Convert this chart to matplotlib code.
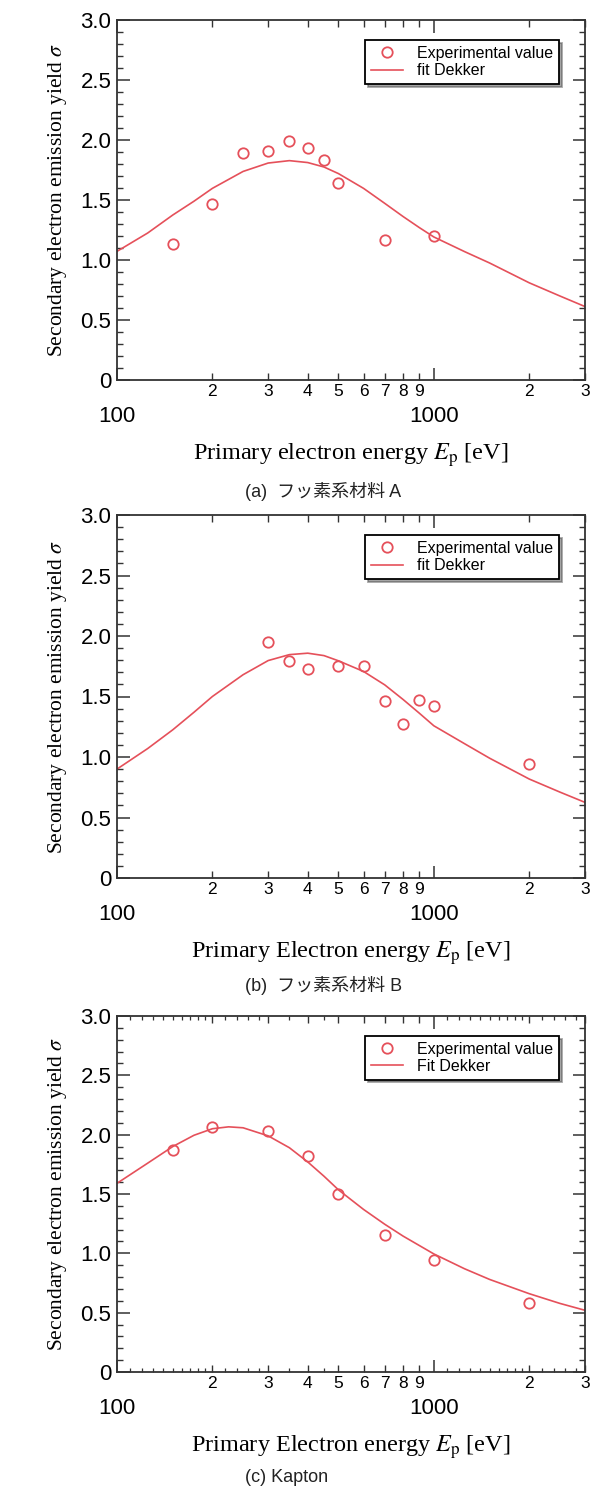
import matplotlib
matplotlib.use("Agg")
import matplotlib.pyplot as plt
from matplotlib.ticker import FixedLocator, FixedFormatter, NullFormatter

# ---------------- data ----------------
exp_E_a = [150, 200, 250, 300, 350, 400, 450, 500, 700, 1000]
exp_s_a = [1.13, 1.47, 1.89, 1.91, 1.99, 1.93, 1.83, 1.64, 1.17, 1.20]
fit_E_a = [100, 125, 150, 175, 200, 250, 300, 350, 400, 450, 500, 600, 700, 800, 900, 1000, 1250, 1500, 2000, 2500, 3000]
fit_s_a = [1.072, 1.225, 1.375, 1.49, 1.597, 1.738, 1.808, 1.828, 1.812, 1.775, 1.72, 1.597, 1.472, 1.362, 1.27, 1.192, 1.07, 0.975, 0.81, 0.7, 0.612]

exp_E_b = [300, 350, 400, 500, 600, 700, 800, 900, 1000, 2000]
exp_s_b = [1.95, 1.79, 1.73, 1.75, 1.75, 1.46, 1.27, 1.47, 1.42, 0.94]
fit_E_b = [100, 125, 150, 175, 200, 250, 300, 350, 400, 450, 500, 600, 700, 800, 900, 1000, 1250, 1500, 2000, 2500, 3000]
fit_s_b = [0.90, 1.07, 1.225, 1.37, 1.50, 1.68, 1.797, 1.846, 1.858, 1.838, 1.795, 1.707, 1.596, 1.475, 1.362, 1.258, 1.11, 0.99, 0.818, 0.71, 0.625]

exp_E_c = [150, 200, 300, 400, 500, 700, 1000, 2000]
exp_s_c = [1.875, 2.066, 2.03, 1.82, 1.50, 1.155, 0.945, 0.58]
fit_E_c = [100, 125, 150, 175, 200, 225, 250, 300, 350, 400, 450, 500, 600, 700, 800, 1000, 1250, 1500, 2000, 2500, 3000]
fit_s_c = [1.59, 1.76, 1.90, 1.995, 2.05, 2.066, 2.058, 1.99, 1.89, 1.77, 1.65, 1.535, 1.37, 1.245, 1.145, 0.995, 0.87, 0.78, 0.66, 0.578, 0.52]

legend_exp = "Experimental value"
legend_fit = ["fit Dekker", "fit Dekker", "Fit Dekker"]
xlabels = [r"Primary electron energy $E_{\mathrm{p}}$ [eV]",
           r"Primary Electron energy $E_{\mathrm{p}}$ [eV]",
           r"Primary Electron energy $E_{\mathrm{p}}$ [eV]"]
ylabel = r"Secondary electron emission yield $\sigma$"
captions = ["(a)  フッ素系材料 A", "(b)  フッ素系材料 B", "(c) Kapton"]

major_x = [100, 1000]
major_x_labels = ["100", "1000"]
minor_x = [200, 300, 400, 500, 600, 700, 800, 900, 2000, 3000]
minor_x_labels = ["2", "3", "4", "5", "6", "7", "8", "9", "2", "3"]
fine_x_c = [110, 120, 130, 140, 150, 160, 170, 180, 190, 220, 240, 260, 280,
            350, 450, 1100, 1200, 1300, 1400, 1500, 1600, 1700, 1800, 1900, 2200, 2400, 2600, 2800]
y_major = [0, 0.5, 1.0, 1.5, 2.0, 2.5, 3.0]
y_major_labels = ["0", "0.5", "1.0", "1.5", "2.0", "2.5", "3.0"]
y_minor = [i / 10 for i in range(31)]

# ---------------- style ----------------
RED = "#e5505a"
SPINE = "#333333"
plt.rcParams['font.family'] = ['Liberation Sans', 'DejaVu Sans']
plt.rcParams['mathtext.fontset'] = 'stix'

W, H = 593, 1495
fig = plt.figure(figsize=(W / 100, H / 100), dpi=100)

panels = [
    (exp_E_a, exp_s_a, fit_E_a, fit_s_a, 20, 380),
    (exp_E_b, exp_s_b, fit_E_b, fit_s_b, 515, 878),
    (exp_E_c, exp_s_c, fit_E_c, fit_s_c, 1016, 1372),
]
caption_y = [491, 985, 1478]
left_px, right_px = 117, 585

for i, (eE, es, fE, fs, top, bot) in enumerate(panels):
    ax = fig.add_axes([left_px / W, 1 - bot / H, (right_px - left_px) / W, (bot - top) / H])
    ax.plot(fE, fs, color=RED, lw=1.2, label=legend_fit[i], zorder=2)
    ax.plot(eE, es, linestyle='none', marker='o', ms=7.5, mfc='none', mec=RED,
            mew=1.3, label=legend_exp, zorder=3)
    ax.set_xscale('log')
    ax.set_xlim(100, 3000)
    ax.set_ylim(0, 3.0)

    ax.xaxis.set_major_locator(FixedLocator(major_x))
    ax.xaxis.set_major_formatter(FixedFormatter(major_x_labels))
    ax.xaxis.set_minor_locator(FixedLocator(minor_x))
    ax.xaxis.set_minor_formatter(FixedFormatter(minor_x_labels))
    ax.yaxis.set_major_locator(FixedLocator(y_major))
    ax.yaxis.set_major_formatter(FixedFormatter(y_major_labels))
    ax.yaxis.set_minor_locator(FixedLocator(y_minor))
    ax.yaxis.set_minor_formatter(NullFormatter())

    ax.tick_params(which='both', direction='in', top=True, right=True, color=SPINE)
    ax.tick_params(axis='y', which='major', length=9, width=1.1, labelsize=16, pad=4)
    ax.tick_params(axis='y', which='minor', length=4.5, width=1.0)
    ax.tick_params(axis='x', which='major', length=9, width=1.1, labelsize=16, pad=19)
    ax.tick_params(axis='x', which='minor', length=5, width=1.0, labelsize=12.5, pad=3)
    for lab in ax.xaxis.get_minorticklabels():
        lab.set_family(['Liberation Sans Narrow', 'Liberation Sans', 'DejaVu Sans'])
    for sp in ax.spines.values():
        sp.set_color(SPINE)
        sp.set_linewidth(1.3)

    if i == 2:
        for loc in ('top', 'bottom'):
            sec = ax.secondary_xaxis(loc)
            sec.set_xscale('log')
            sec.xaxis.set_major_locator(FixedLocator(fine_x_c))
            sec.xaxis.set_minor_locator(FixedLocator([]))
            sec.xaxis.set_major_formatter(NullFormatter())
            sec.tick_params(which='both', direction='in', length=3, width=0.9, color=SPINE)
            for s in sec.spines.values():
                s.set_visible(False)

    ax.set_xlabel(xlabels[i], family=['Liberation Serif', 'DejaVu Serif'], fontsize=17.5, labelpad=10)
    ax.set_ylabel(ylabel, family=['Liberation Serif', 'DejaVu Serif'], fontsize=15.5, labelpad=8)

    handles, labels = ax.get_legend_handles_labels()
    leg = ax.legend(handles[::-1], labels[::-1], loc='upper right',
                    bbox_to_anchor=(0.944, 0.944), borderaxespad=0,
                    fontsize=11.5, frameon=True, fancybox=False, shadow=True,
                    handlelength=2.0, handletextpad=0.9, labelspacing=0.15,
                    borderpad=0.35)
    leg.get_frame().set_edgecolor('black')
    leg.get_frame().set_linewidth(1.3)

    fig.text(245 / W, 1 - caption_y[i] / H, captions[i], ha='left', va='center',
             fontsize=13, family=['Liberation Sans', 'Noto Sans CJK JP', 'DejaVu Sans'],
             color='#222222')

fig.savefig("out.png", dpi=100)
